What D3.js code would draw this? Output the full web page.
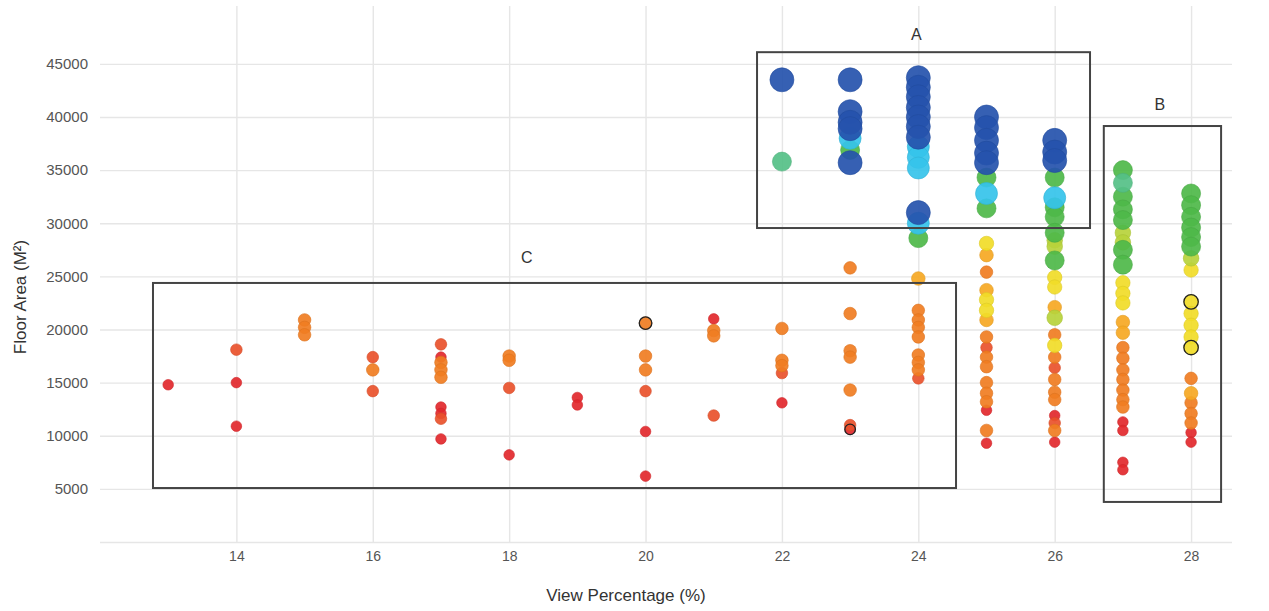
<!DOCTYPE html>
<html>
<head>
<meta charset="utf-8">
<script src="https://cdn.jsdelivr.net/npm/d3@7"></script>
<style>
  body { margin: 0; background: #fff; }
  svg { font-family: "Liberation Sans", Arial, sans-serif; }
  .grid line { stroke: #e6e6e6; stroke-width: 1.4; }
  .axis-title { fill: #333; font-size: 17px; }
  .box { fill: none; stroke: #444; stroke-width: 2; }
  .box-label { fill: #333; font-size: 16px; text-anchor: middle; }
</style>
</head>
<body>
<div id="chart"></div>
<script>
// Tick values
const xTicks = [14, 16, 18, 20, 22, 24, 26, 28];
const yTicks = [0, 5000, 10000, 15000, 20000, 25000, 30000, 35000, 40000, 45000];

// Score levels (1 = low / red ... 10 = high / blue)
const levels = [1, 2, 3, 4, 5, 6, 7, 8, 9, 10];

// [view percentage, floor area, level]
const points = [
  [13, 14800, 1],
  [14, 18100, 2], [14, 15000, 1], [14, 10900, 1],
  [15, 20900, 3], [15, 20200, 3], [15, 19500, 3],
  [16, 17400, 2], [16, 16200, 3], [16, 14200, 2],
  [17, 18600, 2], [17, 17400, 1], [17, 16900, 3], [17, 16200, 3], [17, 15500, 3],
  [17, 12700, 1], [17, 12100, 1], [17, 11600, 2], [17, 9700, 1],
  [18, 17500, 3], [18, 17100, 3], [18, 14500, 2], [18, 8200, 1],
  [19, 13600, 1], [19, 12900, 1],
  [20, 20600, 3], [20, 17500, 3], [20, 16200, 3], [20, 14200, 2], [20, 10400, 1], [20, 6200, 1],
  [21, 21000, 1], [21, 19900, 3], [21, 19400, 3], [21, 11900, 2],
  [22, 43500, 10], [22, 35800, 8], [22, 20100, 3], [22, 17100, 3], [22, 16600, 3],
  [22, 15900, 2], [22, 13100, 1],
  [23, 43500, 10], [23, 40500, 10], [23, 39500, 10], [23, 38900, 10], [23, 38000, 9],
  [23, 36900, 7], [23, 35700, 10], [23, 25800, 3], [23, 21500, 3], [23, 18000, 3],
  [23, 17400, 3], [23, 14300, 3], [23, 11000, 2], [23, 10600, 1],
  [24, 43700, 10], [24, 42800, 10], [24, 41900, 10], [24, 40900, 10], [24, 40000, 10],
  [24, 39100, 10], [24, 38100, 10], [24, 37200, 9], [24, 36200, 9], [24, 35200, 9],
  [24, 31000, 10], [24, 30000, 9], [24, 28600, 7], [24, 24800, 4], [24, 21800, 3],
  [24, 20900, 3], [24, 20200, 3], [24, 19300, 3], [24, 17600, 3], [24, 16900, 3],
  [24, 16200, 3], [24, 15400, 2],
  [25, 40000, 10], [25, 39000, 10], [25, 37800, 10], [25, 36600, 10], [25, 35700, 10],
  [25, 34300, 7], [25, 32800, 9], [25, 31400, 7], [25, 28100, 5], [25, 27000, 4],
  [25, 25400, 3], [25, 23700, 4], [25, 22800, 5], [25, 21800, 5], [25, 20900, 4],
  [25, 19300, 3], [25, 18300, 2], [25, 17400, 3], [25, 16500, 3], [25, 15000, 3],
  [25, 14000, 3], [25, 13200, 3], [25, 12400, 1], [25, 10500, 3], [25, 9300, 1],
  [26, 37800, 10], [26, 36700, 10], [26, 35900, 10], [26, 34300, 7], [26, 32400, 9],
  [26, 31500, 7], [26, 30600, 7], [26, 29100, 7], [26, 28400, 6], [26, 27800, 6],
  [26, 26500, 7], [26, 24900, 5], [26, 24000, 5], [26, 22100, 4], [26, 21100, 6],
  [26, 19500, 3], [26, 18500, 5], [26, 17400, 3], [26, 16400, 2], [26, 15300, 3],
  [26, 14100, 3], [26, 13400, 3], [26, 11900, 1], [26, 11200, 2], [26, 10500, 3],
  [26, 9400, 1],
  [27, 35000, 7], [27, 33800, 8], [27, 32500, 7], [27, 31300, 7], [27, 30300, 7],
  [27, 29100, 6], [27, 28200, 6], [27, 27500, 7], [27, 26100, 7], [27, 24400, 5],
  [27, 23400, 5], [27, 22500, 5], [27, 20700, 4], [27, 19700, 4], [27, 18300, 3],
  [27, 17300, 3], [27, 16200, 3], [27, 15300, 3], [27, 14300, 3], [27, 13400, 3],
  [27, 12700, 3], [27, 11300, 1], [27, 10500, 1], [27, 7500, 1], [27, 6800, 1],
  [28, 32800, 7], [28, 31700, 7], [28, 30600, 7], [28, 29600, 7], [28, 28700, 7],
  [28, 27800, 7], [28, 26700, 6], [28, 25600, 5], [28, 22600, 5], [28, 21500, 5],
  [28, 20400, 5], [28, 19300, 5], [28, 18300, 5], [28, 15400, 3], [28, 14000, 4],
  [28, 13100, 3], [28, 12100, 3], [28, 11200, 3], [28, 10300, 1], [28, 9400, 1]
];

// Points drawn with a black ring
const highlighted = [[20, 20600], [23, 10600], [28, 22600], [28, 18300]];

// Annotation boxes: [label, x0, x1, yTop, yBottom, labelX, labelY]
const boxes = [
  ["A", 21.635, 26.518, 46100, 29550, 23.97, 47700],
  ["B", 26.72, 28.44, 39150, 3770, 27.54, 41100],
  ["C", 12.777, 24.553, 24380, 5080, 18.26, 26700]
];

const width = 1269;
const height = 611;
const plot = {left: 100, right: 1232, top: 6, bottom: 542};

const svg = d3.select("#chart")
  .append("svg")
    .attr("width", width)
    .attr("height", height);

// Scales
const xScale = d3.scaleLinear()
  .domain([12, 28.6])
  .range([plot.left, plot.right]);
const yScale = d3.scaleLinear()
  .domain([0, 50070])
  .range([plot.bottom, 10]);
const colorScale = d3.scaleOrdinal()
  .domain(levels)
  .range(["#e2282c", "#e9512b", "#f07d22", "#f6a823", "#f1dc28",
          "#b7d33b", "#4eb849", "#55c087", "#35c3ea", "#2553ad"]);
const sizeScale = d3.scaleOrdinal()
  .domain(levels)
  .range([5.3, 5.8, 6.3, 6.8, 7.2, 7.8, 9.5, 9.5, 11, 12]);

// Grid + axes
const leftAxis = d3.axisLeft(yScale)
  .tickValues(yTicks)
  .tickSize(-(plot.right - plot.left))
  .tickPadding(12)
  .tickFormat(d => d === 0 ? "" : d);
svg.append("g")
    .attr("class", "grid")
    .attr("transform", `translate(${plot.left},0)`)
    .call(leftAxis)
    .call(g => g.select(".domain").remove())
    .call(g => g.selectAll("text").attr("fill", "#555").style("font-size", "15px"));

const bottomAxis = d3.axisBottom(xScale)
  .tickValues(xTicks)
  .tickSize(-(plot.bottom - plot.top))
  .tickPadding(9);
svg.append("g")
    .attr("class", "grid")
    .attr("transform", `translate(0,${plot.bottom})`)
    .call(bottomAxis)
    .call(g => g.select(".domain").remove())
    .call(g => g.selectAll("text").attr("fill", "#555").style("font-size", "14px"));

// Axis titles
svg.append("text")
    .attr("class", "axis-title")
    .attr("x", 626)
    .attr("y", 601)
    .attr("text-anchor", "middle")
    .text("View Percentage (%)");
svg.append("text")
    .attr("class", "axis-title")
    .attr("transform", `translate(26,297) rotate(-90)`)
    .attr("text-anchor", "middle")
    .text("Floor Area (M²)");

// Points, low levels first so high levels sit on top
const sorted = points.slice().sort((a, b) => a[2] - b[2]);
svg.append("g")
  .selectAll("circle")
  .data(sorted)
  .join("circle")
    .attr("cx", d => xScale(d[0]))
    .attr("cy", d => yScale(d[1]))
    .attr("r", d => sizeScale(d[2]))
    .attr("fill", d => colorScale(d[2]))
    .attr("fill-opacity", 0.92)
    .attr("stroke", d => d3.color(colorScale(d[2])).darker(0.25))
    .attr("stroke-width", 0.6);

svg.append("g")
  .selectAll("circle")
  .data(highlighted)
  .join("circle")
    .attr("cx", d => xScale(d[0]))
    .attr("cy", d => yScale(d[1]))
    .attr("r", d => sizeScale(points.find(p => p[0] === d[0] && p[1] === d[1])[2]))
    .attr("fill", "none")
    .attr("stroke", "#222")
    .attr("stroke-width", 1.3);

// Annotation boxes
const boxG = svg.append("g");
boxG.selectAll("rect")
  .data(boxes)
  .join("rect")
    .attr("class", "box")
    .attr("x", d => xScale(d[1]))
    .attr("y", d => yScale(d[3]))
    .attr("width", d => xScale(d[2]) - xScale(d[1]))
    .attr("height", d => yScale(d[4]) - yScale(d[3]));
boxG.selectAll("text")
  .data(boxes)
  .join("text")
    .attr("class", "box-label")
    .attr("x", d => xScale(d[5]))
    .attr("y", d => yScale(d[6]) + 5)
    .text(d => d[0]);
</script>
</body>
</html>
